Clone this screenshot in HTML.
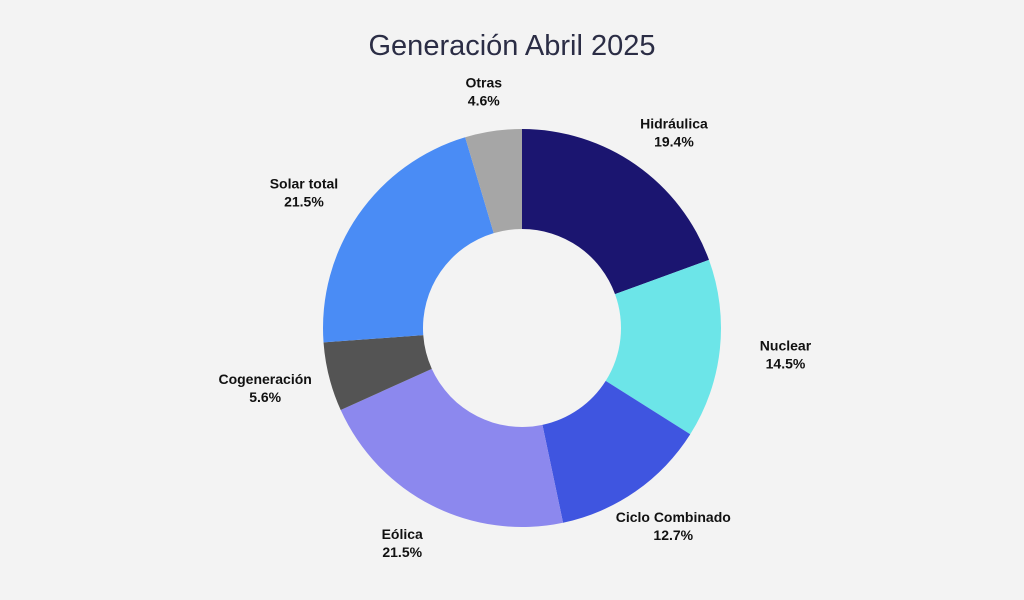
<!DOCTYPE html>
<html><head><meta charset="utf-8"><style>
html,body{margin:0;padding:0;background:#f3f3f3;}
svg{display:block;font-family:"Liberation Sans",sans-serif;}
</style></head><body>
<svg id="chart" width="1024" height="600" viewBox="0 0 1024 600">
<rect width="1024" height="600" fill="#f3f3f3"/>
<text x="512" y="55" text-anchor="middle" font-size="29" fill="#2b2d45">Generación Abril 2025</text>
<g id="slices"></g><g id="labels"></g>
</svg>
<script>
const categories = ["Hidráulica","Nuclear","Ciclo Combinado","Eólica","Cogeneración","Solar total","Otras"];
const values = [19.4,14.5,12.7,21.5,5.6,21.5,4.6];
const colors = ["#1b1570","#6ce5e8","#3f55e0","#8c88ee","#545454","#4a8cf5","#a6a6a6"];
const cx=522, cy=328, R=199, r0=99;
const total = values.reduce((a,b)=>a+b,0);
const ns="http://www.w3.org/2000/svg";
const gS=document.getElementById('slices'), gL=document.getElementById('labels');
function pt(a,rad){return [cx+rad*Math.sin(a), cy-rad*Math.cos(a)];}
let acc=0;
values.forEach((v,i)=>{
  const a0=acc/total*2*Math.PI; acc+=v; const a1=acc/total*2*Math.PI;
  const large=(a1-a0)>Math.PI?1:0;
  const [x0,y0]=pt(a0,R),[x1,y1]=pt(a1,R),[x2,y2]=pt(a1,r0),[x3,y3]=pt(a0,r0);
  const p=document.createElementNS(ns,'path');
  p.setAttribute('d',`M${x0},${y0}A${R},${R} 0 ${large} 1 ${x1},${y1}L${x2},${y2}A${r0},${r0} 0 ${large} 0 ${x3},${y3}Z`);
  p.setAttribute('fill',colors[i]);
  
  
  gS.appendChild(p);
  const am=(a0+a1)/2;
  let [lx,ly]=pt(am,240);
  lx+=Math.sin(am)*25;
  const t=document.createElementNS(ns,'text');
  t.setAttribute('x',lx); t.setAttribute('y',ly-3);
  t.setAttribute('text-anchor','middle'); t.setAttribute('font-size','14');
  t.setAttribute('font-weight','bold'); t.setAttribute('fill','#111');
  
  
  const s1=document.createElementNS(ns,'tspan'); s1.setAttribute('x',lx); s1.textContent=categories[i];
  const s2=document.createElementNS(ns,'tspan'); s2.setAttribute('x',lx); s2.setAttribute('dy','18'); s2.textContent=v.toFixed(1)+'%';
  t.appendChild(s1); t.appendChild(s2); gL.appendChild(t);
});
</script>
</body></html>
